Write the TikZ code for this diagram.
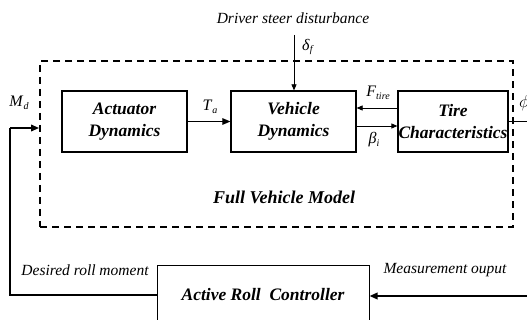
\documentclass[tikz,border=0pt]{standalone}
\usepackage{fontspec}
\setmainfont{Liberation Serif}
\usetikzlibrary{arrows.meta}
% italic symbol with a small italic subscript
\newcommand{\symsub}[2]{\textit{#1}\raisebox{-0.35ex}{\fontsize{10}{12}\selectfont\textit{#2}}}
\begin{document}
\begin{tikzpicture}[x=1pt,y=-1pt,
  block/.style={draw, line width=1.2pt, inner sep=0pt, align=center,
    font=\fontsize{17.5}{22}\selectfont\bfseries\itshape},
  frame/.style={draw, line width=1.8pt, dash pattern=on 7pt off 5pt, inner sep=0pt},
  lbl/.style={inner sep=0pt, font=\fontsize{15.5}{18}\selectfont\itshape},
  sym/.style={inner sep=0pt, font=\fontsize{16}{18}\selectfont},
  sig/.style={line width=1.1pt, -{Triangle[length=8pt,width=6.5pt]}},
  thinsig/.style={line width=0.7pt, -{Triangle[length=6pt,width=5pt]}},
  wire/.style={line width=1.8pt},
]
\clip (0,0) rectangle (527,320);

% subsystem frame
\node[frame, minimum width=473pt, minimum height=166pt] (model) at (276.5,144) {};
\node[lbl, font=\fontsize{18}{22}\selectfont\bfseries\itshape] (modeltxt) at (284,197) {Full Vehicle Model};

% blocks
\node[block, minimum width=125pt, minimum height=61pt] (act)  at (124.5,121.5) {Actuator\\Dynamics};
\node[block, minimum width=125pt, minimum height=61pt] (veh)  at (293.5,121.5) {Vehicle\\Dynamics};
\node[block, minimum width=110pt, minimum height=61pt] (tire) at (453,121.5) {Tire\\Characteristics};
\node[block, line width=1pt, minimum width=212pt, minimum height=58pt] (ctrl) at (263,295) {Active Roll\enspace Controller};

% signals inside the model
\draw[sig] (act.east) -- (veh.west);
\node[sym] (ta) at (210,107) {\symsub{T}{a}};
\draw[thinsig] ([yshift=13.5pt]tire.west) -- ([yshift=13.5pt]veh.east);
\node[sym] (ft) at (378,93) {\symsub{F}{tire}};
\draw[thinsig] ([yshift=-4.5pt]veh.east) -- ([yshift=-4.5pt]tire.west);
\node[sym] (bi) at (374,140) {\symsub{β}{i}};

% driver disturbance
\coordinate (dist) at (294,35);
\draw[thinsig] (dist) -- (dist |- veh.north);
\node[sym] (df) at (308,47) {\symsub{δ}{f}};
\node[lbl] (drv) at (293,18) {Driver steer disturbance};

% roll output and feedback loop
\coordinate (phiend) at (532,121.5);
\draw[wire, line width=1.2pt] (tire.east) -- (phiend);
\node[sym] (phi) at (524,103) {\fontsize{18}{20}\selectfont$\phi$};
\coordinate (meas) at (532,296);
\draw[sig, line width=1.8pt] (meas) -- (meas -| ctrl.east);
\node[lbl] (measlbl) at (445,270) {Measurement ouput};

\coordinate (fb) at (10,128);
\draw[wire] (ctrl.west) -| (fb);
\draw[sig, line width=1.8pt] (fb) -- (fb -| model.west);
\node[sym] (md) at (19,103) {\symsub{M}{d}};
\node[lbl] (desl) at (85,270) {Desired roll moment};
\end{tikzpicture}
\end{document}
